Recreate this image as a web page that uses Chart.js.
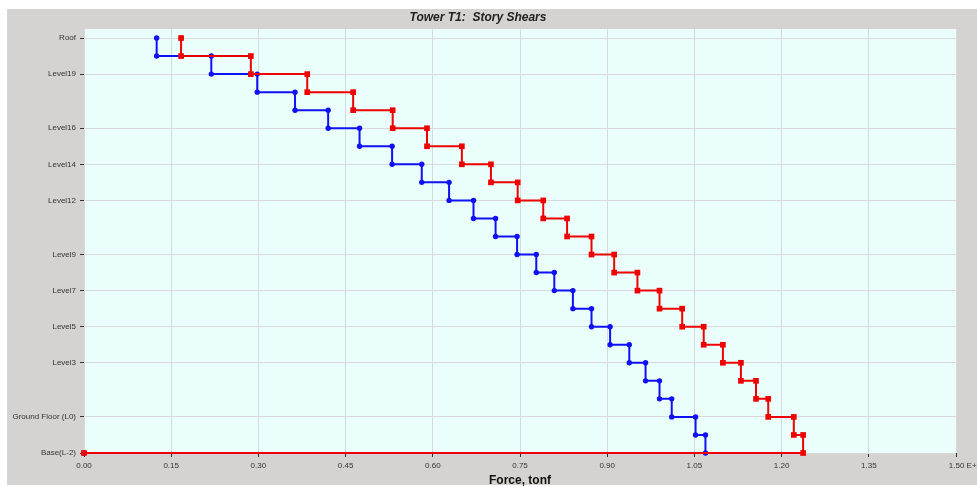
<!DOCTYPE html>
<html>
<head>
<meta charset="utf-8">
<title>Tower T1: Story Shears</title>
<script src="https://cdn.jsdelivr.net/npm/chart.js@4.4.1/dist/chart.umd.min.js"></script>
<style>
    html, body { margin: 0; padding: 0; background: #fff; }
    #wrap { width: 977px; height: 487px; }
</style>
</head>
<body>
<div id="wrap"><canvas id="myChart" width="977" height="487"></canvas></div>
<script>
// storey levels from the base (index 0) up to the roof (index 23)
const storyLevels = [
    'Base(L-2)', 'Level-1', 'Ground Floor (L0)',
    'Level1', 'Level2', 'Level3', 'Level4', 'Level5', 'Level6', 'Level7',
    'Level8', 'Level9', 'Level10', 'Level11', 'Level12', 'Level13', 'Level14',
    'Level15', 'Level16', 'Level17', 'Level18', 'Level19', 'Level20', 'Roof',
];

// levels that get a label on the y axis
const labelledLevels = [
    'Base(L-2)', 'Ground Floor (L0)', 'Level3', 'Level5', 'Level7',
    'Level9', 'Level12', 'Level14', 'Level16', 'Level19', 'Roof',
];

// story shear per storey, tonf, listed from the roof storey down to the base storey
const shearBlue = [
    125, 219, 298, 363, 420, 474, 530, 581, 628, 670, 708, 745,
    778, 809, 841, 873, 905, 938, 966, 990, 1011, 1052, 1069,
];
const shearRed = [
    167, 287, 384, 463, 531, 590, 650, 700, 746, 790, 831, 873,
    912, 952, 990, 1029, 1066, 1099, 1130, 1156, 1177, 1221, 1237,
];

const forceTicks = [0, 150, 300, 450, 600, 750, 900, 1050, 1200, 1350, 1500];

// stepped profile: each storey holds its shear between its top and bottom level
function stepPoints(shears) {
    const top = storyLevels.length - 1;
    const pts = [];
    shears.forEach((v, i) => {
        pts.push({ x: v, y: top - i });
        pts.push({ x: v, y: top - i - 1 });
    });
    pts.push({ x: 0, y: 0 });
    return pts;
}

const bgPlugin = {
    id: 'bgPlugin',
    beforeDraw(chart) {
        const { ctx, chartArea } = chart;
        ctx.save();
        ctx.fillStyle = '#ffffff';
        ctx.fillRect(0, 0, chart.width, chart.height);
        ctx.fillStyle = '#d5d3d1';
        ctx.fillRect(7, 9, chart.width - 7, chart.height - 11);
        ctx.fillStyle = '#eafffb';
        ctx.fillRect(chartArea.left, chartArea.top, chartArea.right - chartArea.left, chartArea.bottom - chartArea.top);
        ctx.restore();
    }
};

const data = {
    datasets: [
        {
            label: 'Story Shear Y',
            data: stepPoints(shearRed),
            borderColor: '#ee0000',
            backgroundColor: '#ee0000',
            borderWidth: 2,
            pointStyle: 'rect',
            pointRadius: 4,
            pointHoverRadius: 4,
            pointBorderWidth: 0,
            tension: 0,
            clip: false,
            order: 0,
        },
        {
            label: 'Story Shear X',
            data: stepPoints(shearBlue),
            borderColor: '#1010f5',
            backgroundColor: '#1010f5',
            borderWidth: 2,
            pointStyle: 'circle',
            pointRadius: 2.7,
            pointHoverRadius: 2.7,
            pointBorderWidth: 0,
            tension: 0,
            clip: false,
            order: 1,
        },
    ]
};

const config = {
    type: 'line',
    data: data,
    plugins: [bgPlugin],
    options: {
        responsive: false,
        animation: false,
        layout: {
            padding: { top: 0, right: 21, bottom: 0, left: 0 }
        },
        plugins: {
            legend: { display: false },
            tooltip: { enabled: false },
            title: {
                display: true,
                text: 'Tower T1:  Story Shears',
                color: '#222',
                font: { family: 'Liberation Sans, Arial, sans-serif', size: 12, weight: 'bold', style: 'italic', lineHeight: 1.2 },
                padding: { top: 10, bottom: 4.6 }
            }
        },
        scales: {
            x: {
                type: 'linear',
                min: 0,
                max: 1500,
                afterBuildTicks: (scale) => {
                    scale.ticks = forceTicks.map(v => ({ value: v }));
                },
                afterFit: (scale) => {
                    scale.height = 34;
                    scale.paddingLeft = 0;
                    scale.paddingRight = 0;
                },
                border: { display: false },
                grid: { color: '#d9d9d9', tickColor: '#333', tickLength: 4, lineWidth: 1 },
                ticks: {
                    color: '#333',
                    padding: 4,
                    maxRotation: 0,
                    autoSkip: false,
                    font: { family: 'Liberation Sans, Arial, sans-serif', size: 8 },
                    callback: (v) => {
                        const s = (v / 1000).toFixed(2);
                        return v === 1500 ? '        ' + s + ' E+3' : s;
                    }
                },
                title: {
                    display: true,
                    text: 'Force, tonf',
                    color: '#111',
                    font: { family: 'Liberation Sans, Arial, sans-serif', size: 12, weight: 'bold', lineHeight: 1 },
                    padding: { top: 0, bottom: 0 }
                }
            },
            y: {
                type: 'linear',
                min: 0,
                max: 23.5,
                afterBuildTicks: (scale) => {
                    scale.ticks = labelledLevels.map(name => ({ value: storyLevels.indexOf(name) }));
                },
                afterFit: (scale) => {
                    scale.width = 84;
                    scale.paddingTop = 0;
                    scale.paddingBottom = 0;
                },
                border: { display: false },
                grid: { color: '#d9d9d9', tickColor: '#333', tickLength: 4, lineWidth: 1 },
                ticks: {
                    color: '#333',
                    padding: 4,
                    autoSkip: false,
                    font: { family: 'Liberation Sans, Arial, sans-serif', size: 8 },
                    callback: (v) => storyLevels[v]
                }
            }
        }
    }
};

const chart = new Chart(
    document.getElementById('myChart'),
    config
);
</script>
</body>
</html>
